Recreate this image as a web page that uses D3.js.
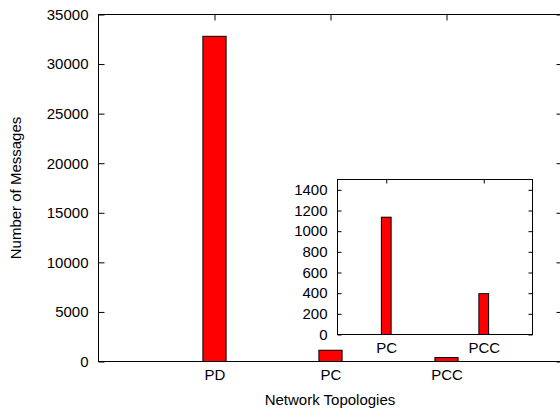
<!DOCTYPE html>
<html>
<head>
<meta charset="utf-8">
<script src="https://cdn.jsdelivr.net/npm/d3@7"></script>
<style>
body { margin: 0; background: #fff; }
text { font-family: "Liberation Sans", Arial, sans-serif; font-size: 15px; fill: #000; }
</style>
</head>
<body>
<svg id="svg1" width="560" height="410"></svg>
<script>
// main chart data
var topologies = ['PD', 'PC', 'PCC'];
var messages = [32800, 1135, 395];
var yTicks = [0, 5000, 10000, 15000, 20000, 25000, 30000, 35000];

// inset data (zoom on the small ones)
var insetTopologies = ['PC', 'PCC'];
var insetMessages = [1135, 395];
var insetTicks = [0, 200, 400, 600, 800, 1000, 1200, 1400];

var svg = d3.select('#svg1');

function drawPlot(g, opt) {
    var x = d3.scaleLinear().domain(opt.xDomain).range([opt.left, opt.right]);
    var y = d3.scaleLinear().domain(opt.yDomain).range([opt.bottom, opt.top]);

    if (opt.fillBg) {
        g.append('rect')
            .attr('x', opt.left).attr('y', opt.top)
            .attr('width', opt.right - opt.left).attr('height', opt.bottom - opt.top)
            .attr('fill', 'white');
    }

    // bars
    g.selectAll('rect.bar')
        .data(opt.values)
        .enter()
        .append('rect')
        .attr('class', 'bar')
        .attr('x', function(d, i) { return x(i - opt.barW / 2); })
        .attr('width', function() { return x(opt.barW) - x(0); })
        .attr('y', function(d) { return y(d); })
        .attr('height', function(d) { return y(0) - y(d); })
        .attr('fill', '#ff0000')
        .attr('stroke', '#000')
        .attr('stroke-width', 1);

    // y ticks, inward on both sides
    var yAxis = d3.axisLeft(y).tickValues(opt.yTicks).tickSize(-opt.tick).tickPadding(opt.yPad).tickFormat(d3.format('d'));
    g.append('g').attr('transform', 'translate(' + opt.left + ',0)').call(yAxis)
        .call(function(a) { a.select('.domain').remove(); });
    g.append('g').attr('transform', 'translate(' + opt.right + ',0)')
        .call(d3.axisRight(y).tickValues(opt.yTicks).tickSize(-opt.tick).tickFormat(''))
        .call(function(a) { a.select('.domain').remove(); });

    // x ticks
    var cats = opt.cats.map(function(c, i) { return i; });
    g.append('g').attr('transform', 'translate(0,' + opt.bottom + ')')
        .call(d3.axisBottom(x).tickValues(cats).tickSize(0).tickPadding(opt.xPad).tickFormat(function(d) { return opt.cats[d]; }))
        .call(function(a) { a.select('.domain').remove(); });
    g.append('g').attr('transform', 'translate(0,' + opt.top + ')')
        .call(d3.axisTop(x).tickValues(cats).tickSize(-opt.tick).tickFormat(''))
        .call(function(a) { a.select('.domain').remove(); });

    g.selectAll('.tick line').attr('stroke', '#000');
    g.selectAll('.tick text').style('font-family', '"Liberation Sans", Arial, sans-serif').style('font-size', '15px');

    // frame
    g.append('rect')
        .attr('x', opt.left).attr('y', opt.top)
        .attr('width', opt.right - opt.left).attr('height', opt.bottom - opt.top)
        .attr('fill', 'none').attr('stroke', '#000').attr('stroke-width', 1);
}

drawPlot(svg.append('g'), {
    left: 98.5, right: 562.5, top: 14.5, bottom: 361.5,
    xDomain: [-1, 3], yDomain: [0, 35000],
    values: messages, cats: topologies, yTicks: yTicks,
    barW: 0.2, tick: 6, xPad: 8, yPad: 10
});

drawPlot(svg.append('g'), {
    fillBg: true,
    left: 337.5, right: 532.5, top: 179.5, bottom: 334.5,
    xDomain: [-0.5, 1.5], yDomain: [0, 1500],
    values: insetMessages, cats: insetTopologies, yTicks: insetTicks,
    barW: 0.1, tick: 4, xPad: 8, yPad: 10
});

// axis titles
svg.append('text')
    .attr('transform', 'translate(21,188) rotate(-90)')
    .attr('text-anchor', 'middle')
    .text('Number of Messages');

svg.append('text')
    .attr('x', 330).attr('y', 405)
    .attr('text-anchor', 'middle')
    .text('Network Topologies');
</script>
</body>
</html>
